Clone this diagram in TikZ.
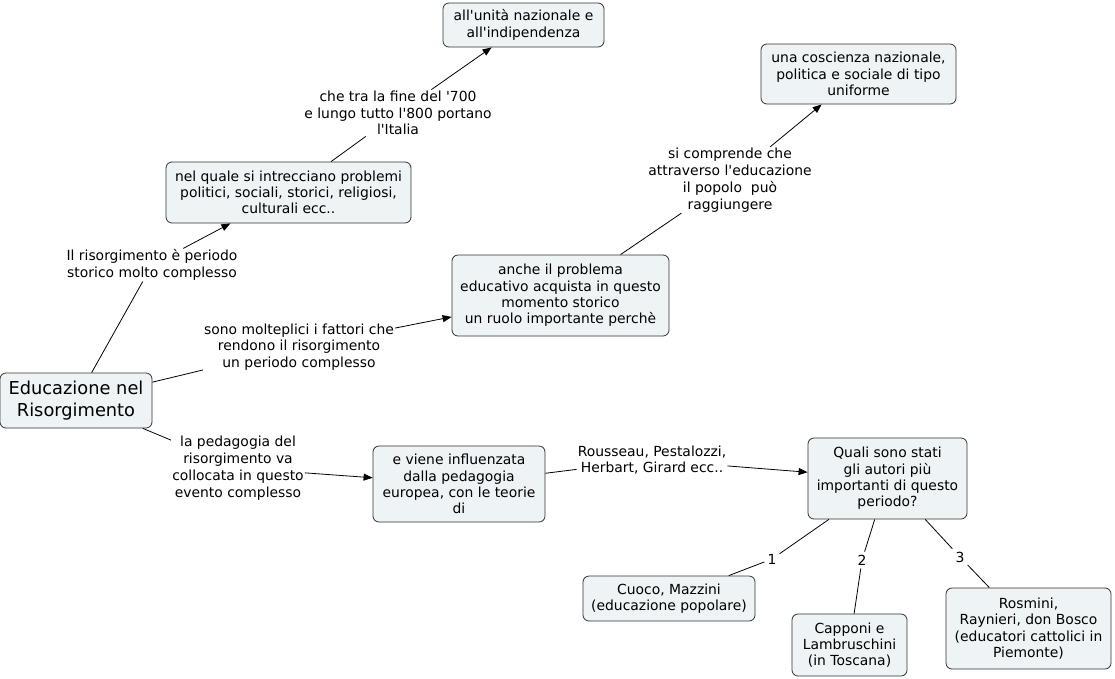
\documentclass[tikz,border=0pt]{standalone}
\usepackage{fontspec}
\setmainfont{DejaVu Sans}
\usetikzlibrary{arrows.meta}
\definecolor{boxfill}{HTML}{EEF3F5}
\definecolor{boxline}{HTML}{333333}
\newcommand{\q}{\textquotesingle}
\begin{document}
\begin{tikzpicture}[x=1pt,y=-1pt,
  concept/.style={draw=boxline,fill=boxfill,rounded corners=6pt,align=center,inner sep=2pt,
    font=\fontsize{13.9}{16.3}\selectfont,line width=0.8pt},
  lab/.style={align=center,inner sep=1pt,font=\fontsize{13.9}{16.8}\selectfont},
  link/.style={line width=0.8pt},
  arr/.style={line width=0.8pt,-{Triangle[length=9pt,width=7pt]}}]
\useasboundingbox (0,0) rectangle (1115,678);
\fill[white] (0,0) rectangle (1115,678);
% concepts
\node[concept,minimum width=152pt,minimum height=55pt,font=\fontsize{17.8}{22}\selectfont] (edu) at (76,400.5) {Educazione nel\\Risorgimento};
\node[concept,minimum width=245pt,minimum height=61pt] (nelq) at (288.5,192.5) {nel quale si intrecciano problemi\\politici, sociali, storici, religiosi,\\culturali ecc..};
\node[concept,minimum width=161pt,minimum height=44pt] (unita) at (523.5,25) {all\q unità nazionale e\\all\q indipendenza};
\node[concept,minimum width=195pt,minimum height=60pt] (cosc) at (858.5,74) {una coscienza nazionale,\\politica e sociale di tipo\\uniforme};
\node[concept,minimum width=217pt,minimum height=81pt] (anche) at (560.5,295.5) {anche il problema\\educativo acquista in questo\\momento storico\\un ruolo importante perchè};
\node[concept,minimum width=172pt,minimum height=76pt] (viene) at (459,484) {e viene influenzata\\dalla pedagogia\\europea, con le teorie\\di};
\node[concept,minimum width=159pt,minimum height=81pt] (quali) at (887.5,478.5) {Quali sono stati\\gli autori più\\importanti di questo\\periodo?};
\node[concept,minimum width=172pt,minimum height=45pt] (cuoco) at (669,598.5) {Cuoco, Mazzini\\(educazione popolare)};
\node[concept,minimum width=115pt,minimum height=62pt] (capponi) at (849.5,645) {Capponi e\\Lambruschini\\(in Toscana)};
\node[concept,minimum width=165pt,minimum height=81pt] (rosmini) at (1028.5,628.5) {Rosmini,\\Raynieri, don Bosco\\(educatori cattolici in\\Piemonte)};
% labels
\node[lab] (l1) at (152,265) {Il risorgimento è periodo\\storico molto complesso};
\node[lab] (l2) at (398,113) {che tra la fine del \q 700\\e lungo tutto l\q 800 portano\\l\q Italia};
\node[lab] (l3) at (730,180) {si comprende che\\attraverso l\q educazione\\il popolo~~può\\raggiungere};
\node[lab] (l4) at (299,347) {sono molteplici i fattori che\\rendono il risorgimento\\un periodo complesso};
\node[lab] (l5) at (238,468) {la pedagogia del\\risorgimento va\\collocata in questo\\evento complesso};
\node[lab] (l6) at (652,460) {Rousseau, Pestalozzi,\\Herbart, Girard ecc..};
\node[lab,inner sep=3pt] (n1) at (772,559) {1};
\node[lab,inner sep=3pt] (n2) at (862,560) {2};
\node[lab,inner sep=3pt] (n3) at (960,557) {3};
% connectors
\draw[link] (edu) -- (l1);
\draw[arr] (l1) -- (nelq);
\draw[link] (nelq) -- (l2);
\draw[arr] (l2) -- (unita);
\draw[link] (anche) -- (l3);
\draw[arr] (l3) -- (cosc);
\draw[link] (edu) -- (l4);
\draw[arr] (l4) -- (anche);
\draw[link] (edu) -- (l5);
\draw[arr] (l5) -- (viene);
\draw[link] (viene) -- (l6);
\draw[arr] (l6) -- (quali);
\draw[link] (quali) -- (n1);
\draw[link] (n1) -- (cuoco);
\draw[link] (quali) -- (n2);
\draw[link] (n2) -- (capponi);
\draw[link] (quali) -- (n3);
\draw[link] (n3) -- (rosmini);
\end{tikzpicture}
\end{document}
